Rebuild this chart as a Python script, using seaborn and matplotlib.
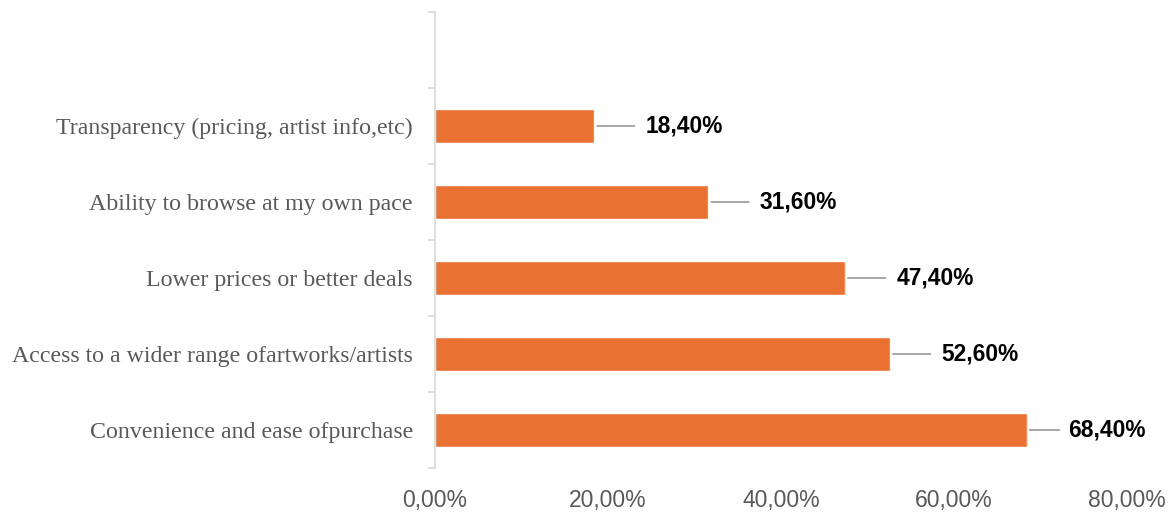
import matplotlib
matplotlib.use("Agg")
import matplotlib.pyplot as plt
import seaborn as sns
import pandas as pd
from matplotlib.ticker import FixedLocator

categories = [
    "Transparency (pricing, artist info,etc)",
    "Ability to browse at my own pace",
    "Lower prices or better deals",
    "Access to a wider range ofartworks/artists",
    "Convenience and ease ofpurchase",
]
shares = [18.4, 31.6, 47.4, 52.6, 68.4]
x_ticks = [0, 20, 40, 60, 80]
x_tick_labels = ["0,00%", "20,00%", "40,00%", "60,00%", "80,00%"]

# leader line length and label offset (points) for each data label
leader_end = [29, 29, 29, 29, 23.5]
label_offset = [37, 37, 37, 37, 30]

df = pd.DataFrame({"reason": categories, "share": shares})

sns.set_theme(style="white")
fig = plt.figure(figsize=(11.76, 5.12), dpi=100)
ax = fig.add_axes([435 / 1176, 1 - 468 / 512, (1127 - 435) / 1176, (468 - 12) / 512])

sns.barplot(data=df, x="share", y="reason", order=categories, color="#E97132",
            saturation=1, width=0.45, ax=ax)

ax.set_xlim(0, 80)
ax.set_ylim(len(categories) - 0.5, -1.5)
ax.set_xlabel("")
ax.set_ylabel("")

for side in ["top", "right", "bottom"]:
    ax.spines[side].set_visible(False)
ax.spines["left"].set_color("#D9D9D9")
ax.spines["left"].set_linewidth(1.2)

ax.set_xticks(x_ticks)
ax.set_xticklabels(x_tick_labels, fontfamily="Liberation Sans", fontsize=16.5, color="#595959")
ax.tick_params(axis="x", length=0, pad=15)

ax.set_yticks(range(len(categories)))
ax.set_yticklabels(categories, fontfamily="Liberation Serif", fontsize=17.2, color="#595959")
ax.tick_params(axis="y", which="major", length=0, pad=16)
ax.yaxis.set_minor_locator(FixedLocator([i - 0.5 for i in range(-1, len(categories) + 1)]))
ax.tick_params(axis="y", which="minor", length=5, width=1.2, color="#D9D9D9", left=True)

for i, v in enumerate(shares):
    ax.annotate("", xy=(v, i), xytext=(leader_end[i], 0), textcoords="offset points",
                arrowprops=dict(arrowstyle="-", color="#A6A6A6", lw=1.4,
                                shrinkA=0, shrinkB=2.2))
    ax.annotate(f"{v:.2f}%".replace(".", ","), xy=(v, i), xytext=(label_offset[i], 0),
                textcoords="offset points", ha="left", va="center",
                fontfamily="Liberation Sans", fontweight="bold", fontsize=16.4,
                color="#000000")

fig.savefig("out.png", dpi=100)
